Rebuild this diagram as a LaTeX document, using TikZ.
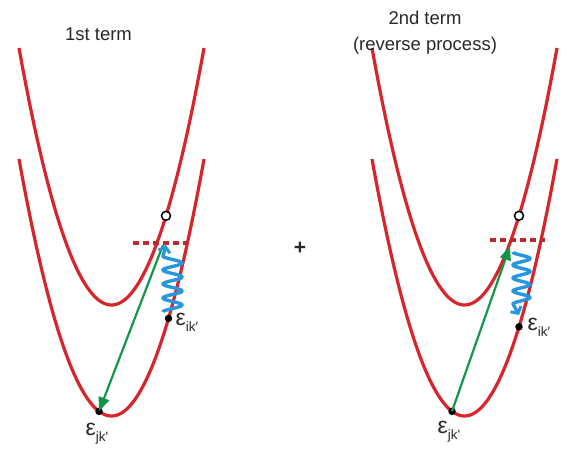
\documentclass[tikz,border=0pt]{standalone}
\usepackage{fontspec}
\setmainfont{Liberation Sans}
\usetikzlibrary{arrows.meta}
\definecolor{cred}{RGB}{214,38,44}
\definecolor{cdash}{RGB}{188,42,42}
\definecolor{cgreen}{RGB}{20,150,72}
\definecolor{cblue}{RGB}{40,150,222}
\definecolor{ctext}{RGB}{40,40,40}
\begin{document}
\begin{tikzpicture}[x=1pt,y=-1pt,
  curve/.style={draw=cred,line width=3.2pt},
  level/.style={draw=cdash,line width=3.2pt,dash pattern=on 6pt off 4pt},
  excite/.style={draw=cgreen,line width=2.2pt,-{Triangle[length=14pt,width=11pt]}},
  phonon/.style={draw=cblue,line width=3.4pt,line join=round,-{Straight Barb[length=5pt,width=12pt,line width=3pt]}},
  dot/.style={circle,fill=black,inner sep=0pt,minimum size=7.5pt},
  hole/.style={circle,draw=black,fill=white,line width=1.5pt,inner sep=0pt,minimum size=9pt},
  title/.style={text=ctext,font=\fontsize{18.5}{22}\selectfont,anchor=base,inner sep=0pt},
  elab/.style={text=ctext,anchor=base west,inner sep=0pt}
]
\useasboundingbox (0,0) rectangle (572,448);
% ---------- left panel ----------
\draw[curve] plot[domain=19:204,samples=90] (\x,{305-257*((\x-111.5)/92.5)*((\x-111.5)/92.5)});
\draw[curve] plot[domain=19:204,samples=90] (\x,{416-257*((\x-111.5)/92.5)*((\x-111.5)/92.5)});
\draw[level] (133,243) -- (187,243);
\node[hole] (hL) at (166,215.8) {};
\coordinate (gL) at (163,245);
\coordinate (bLtop) at (166,245);
\node[dot] (ikL) at (168.5,318.4) {};
\node[dot] (jkL) at (99,411.3) {};
\draw[excite] (gL) -- (jkL.center);
\draw[phonon] plot[domain=0:4,samples=121,smooth] ({172.5-9.5*cos(360*\x)},{312-14*\x}) -- (bLtop);
\node[elab] (lab1) at (175.5,325.5) {\fontsize{23}{23}\selectfont ε\raisebox{-6pt}{\fontsize{13.5}{13.5}\selectfont ik′}};
\node[elab] (lab2) at (85.5,435.5) {\fontsize{23}{23}\selectfont ε\raisebox{-6pt}{\fontsize{13.5}{13.5}\selectfont jk\textquotesingle}};
\node[title] (t1) at (98.5,40) {1st term};
% ---------- plus ----------
\node[text=ctext,font=\fontsize{21}{21}\selectfont\bfseries,inner sep=0pt] (plus) at (300,248) {+};
% ---------- right panel ----------
\draw[curve] plot[domain=372:557,samples=90] (\x,{305-257*((\x-464.5)/92.5)*((\x-464.5)/92.5)});
\draw[curve] plot[domain=372:557,samples=90] (\x,{416-257*((\x-464.5)/92.5)*((\x-464.5)/92.5)});
\draw[level] (490,240) -- (545,240);
\node[hole] (hR) at (519,215.8) {};
\coordinate (gR) at (510,246);
\coordinate (bRbot) at (519,315);
\node[dot] (ikR) at (519,326.8) {};
\node[dot] (jkR) at (452,411.3) {};
\draw[excite] (jkR.center) -- (gR);
\draw[phonon] plot[domain=0:4,samples=121,smooth] ({521.5-8.5*cos(360*\x)},{252+13*\x}) -- (bRbot);
\node[elab] (lab3) at (527.5,330.5) {\fontsize{23}{23}\selectfont ε\raisebox{-6pt}{\fontsize{13.5}{13.5}\selectfont ik′}};
\node[elab] (lab4) at (437.5,433.5) {\fontsize{23}{23}\selectfont ε\raisebox{-6pt}{\fontsize{13.5}{13.5}\selectfont jk\textquotesingle}};
\node[title] (t2) at (425,24) {2nd term};
\node[title] (t3) at (425,50) {(reverse process)};
\end{tikzpicture}
\end{document}
